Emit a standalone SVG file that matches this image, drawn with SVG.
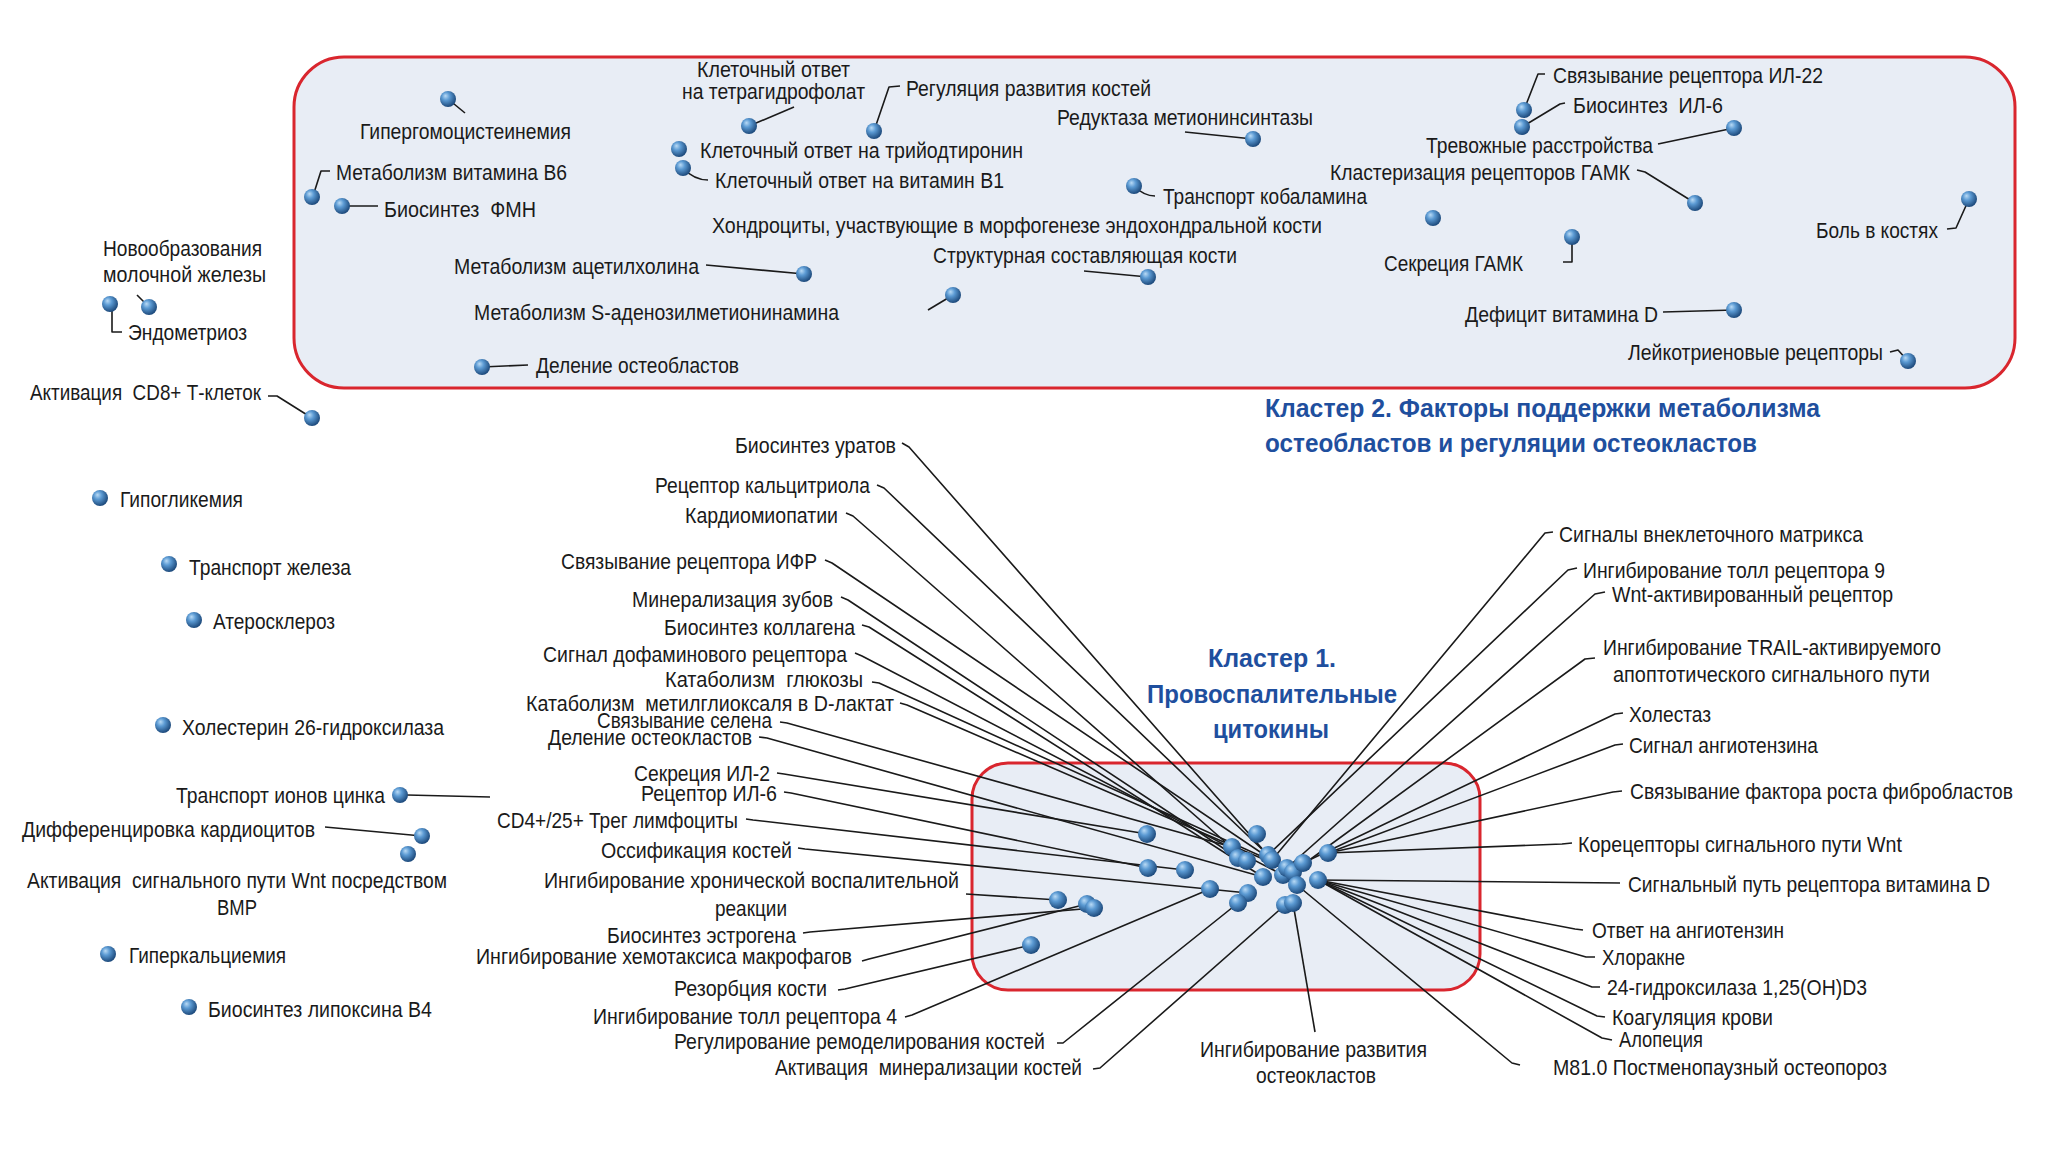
<svg xmlns="http://www.w3.org/2000/svg" xmlns:xlink="http://www.w3.org/1999/xlink" width="2050" height="1152" viewBox="0 0 2050 1152">
<style>
.t{font-family:"Liberation Sans Narrow","Liberation Sans",Arial,sans-serif;font-size:22px;fill:#1a1a1a;white-space:pre}
.h{font-family:"Liberation Sans Narrow","Liberation Sans",Arial,sans-serif;font-size:26px;font-weight:bold;fill:#1f4f9e}
.ln{stroke:#1a1a1a;stroke-width:1.6;fill:none;stroke-linejoin:round}
.box{fill:#e8edf5;stroke:#d9262e;stroke-width:3}
</style>
<defs>
<radialGradient id="gb" cx="0.4" cy="0.38" r="0.62" fx="0.34" fy="0.3">
<stop offset="0" stop-color="#b9daf5"/>
<stop offset="0.4" stop-color="#5b9ad3"/>
<stop offset="1" stop-color="#1d4a7c"/>
</radialGradient>
<circle id="ball" r="8" fill="url(#gb)"/>
<circle id="ballL" r="9" fill="url(#gb)"/>
</defs>
<rect width="2050" height="1152" fill="#ffffff"/>
<g id="cluster2">
<rect class="box" x="294" y="57" width="1721" height="331" rx="50"/>
</g>
<g id="cluster1">
<rect class="box" x="972" y="763" width="508" height="227" rx="36"/>
</g>
<g id="connectors">
<path class="ln" d="M448,99 L465,113"/>
<path class="ln" d="M330,171 L321,171 L313,196"/>
<path class="ln" d="M342,206 L378,206"/>
<path class="ln" d="M149,307 L137,295"/>
<path class="ln" d="M112,310 L112,332 L122,332"/>
<path class="ln" d="M268,396 L277,396 L312,418"/>
<path class="ln" d="M407,795 L490,797"/>
<path class="ln" d="M325,827 L422,836"/>
<path class="ln" d="M749,126 L794,107"/>
<path class="ln" d="M874,131 L889,87 L900,86"/>
<path class="ln" d="M683,168 Q694,180 708,180"/>
<path class="ln" d="M706,265 L804,274"/>
<path class="ln" d="M953,295 L928,310"/>
<path class="ln" d="M1084,271 L1148,277"/>
<path class="ln" d="M482,367 L528,365"/>
<path class="ln" d="M1185,132 L1253,139"/>
<path class="ln" d="M1134,186 Q1144,196 1155,196"/>
<path class="ln" d="M1658,144 L1734,128"/>
<path class="ln" d="M1637,170 L1645,172 L1695,203"/>
<path class="ln" d="M1572,237 L1572,262 L1563,262"/>
<path class="ln" d="M1663,312 L1734,310"/>
<path class="ln" d="M1524,110 L1538,74 L1545,74"/>
<path class="ln" d="M1522,127 L1560,104 L1565,103"/>
<path class="ln" d="M1969,199 L1956,228 L1947,229"/>
<path class="ln" d="M1890,352 L1898,350 L1908,361"/>
<path class="ln" d="M902,443 L909,447 L1272,860"/>
<path class="ln" d="M877,485 L884,488 L1268,855"/>
<path class="ln" d="M846,513 L853,516 L1247,861"/>
<path class="ln" d="M825,560 L832,563 L1272,860"/>
<path class="ln" d="M841,597 L848,600 L1238,858"/>
<path class="ln" d="M862,625 L869,627 L1263,877"/>
<path class="ln" d="M855,653 L862,656 L1283,875"/>
<path class="ln" d="M872,682 L879,683 L1287,868"/>
<path class="ln" d="M900,703 L907,705 L1293,872"/>
<path class="ln" d="M780,722 L787,723 L1232,847"/>
<path class="ln" d="M759,737 L767,738 L1263,877"/>
<path class="ln" d="M777,773 L784,774 L1147,834"/>
<path class="ln" d="M784,792 L791,793 L1148,868"/>
<path class="ln" d="M746,819 L753,820 L1185,870"/>
<path class="ln" d="M798,848 L805,849 L1248,893"/>
<path class="ln" d="M966,894 L1058,900"/>
<path class="ln" d="M803,933 L810,932 L1094,908"/>
<path class="ln" d="M862,961 L869,959 L1087,904"/>
<path class="ln" d="M838,990 L845,989 L1031,945"/>
<path class="ln" d="M905,1017 L912,1015 L1210,889"/>
<path class="ln" d="M1057,1043 L1063,1043 L1238,903"/>
<path class="ln" d="M1093,1069 L1100,1068 L1285,905"/>
<path class="ln" d="M1315,1032 L1293,903"/>
<path class="ln" d="M1520,1065 L1512,1063 L1297,885"/>
<path class="ln" d="M1553,532 L1545,533 L1272,860"/>
<path class="ln" d="M1577,568 L1568,570 L1268,855"/>
<path class="ln" d="M1605,592 L1595,594 L1287,868"/>
<path class="ln" d="M1595,658 L1585,659 L1293,872"/>
<path class="ln" d="M1623,713 L1615,714 L1303,863"/>
<path class="ln" d="M1623,744 L1615,745 L1328,853"/>
<path class="ln" d="M1622,791 L1613,792 L1328,853"/>
<path class="ln" d="M1572,843 L1562,844 L1328,853"/>
<path class="ln" d="M1620,883 L1318,880"/>
<path class="ln" d="M1583,930 L1575,929 L1318,880"/>
<path class="ln" d="M1595,957 L1586,957 L1318,880"/>
<path class="ln" d="M1600,987 L1592,987 L1318,880"/>
<path class="ln" d="M1605,1017 L1597,1016 L1318,880"/>
<path class="ln" d="M1612,1040 L1602,1038 L1318,880"/>
</g>
<g id="balls-outer">
<use xlink:href="#ball" x="448" y="99"/>
<use xlink:href="#ball" x="312" y="197"/>
<use xlink:href="#ball" x="342" y="206"/>
<use xlink:href="#ball" x="110" y="304"/>
<use xlink:href="#ball" x="149" y="307"/>
<use xlink:href="#ball" x="312" y="418"/>
<use xlink:href="#ball" x="100" y="498"/>
<use xlink:href="#ball" x="169" y="564"/>
<use xlink:href="#ball" x="194" y="620"/>
<use xlink:href="#ball" x="163" y="725"/>
<use xlink:href="#ball" x="400" y="795"/>
<use xlink:href="#ball" x="422" y="836"/>
<use xlink:href="#ball" x="408" y="854"/>
<use xlink:href="#ball" x="108" y="954"/>
<use xlink:href="#ball" x="189" y="1007"/>
<use xlink:href="#ball" x="749" y="126"/>
<use xlink:href="#ball" x="874" y="131"/>
<use xlink:href="#ball" x="679" y="149"/>
<use xlink:href="#ball" x="683" y="168"/>
<use xlink:href="#ball" x="804" y="274"/>
<use xlink:href="#ball" x="953" y="295"/>
<use xlink:href="#ball" x="1148" y="277"/>
<use xlink:href="#ball" x="482" y="367"/>
<use xlink:href="#ball" x="1253" y="139"/>
<use xlink:href="#ball" x="1134" y="186"/>
<use xlink:href="#ball" x="1433" y="218"/>
<use xlink:href="#ball" x="1734" y="128"/>
<use xlink:href="#ball" x="1695" y="203"/>
<use xlink:href="#ball" x="1572" y="237"/>
<use xlink:href="#ball" x="1734" y="310"/>
<use xlink:href="#ball" x="1524" y="110"/>
<use xlink:href="#ball" x="1522" y="127"/>
<use xlink:href="#ball" x="1969" y="199"/>
<use xlink:href="#ball" x="1908" y="361"/>
</g>
<g id="balls-cluster1">
<use xlink:href="#ballL" x="1147" y="834"/>
<use xlink:href="#ballL" x="1257" y="834"/>
<use xlink:href="#ballL" x="1232" y="847"/>
<use xlink:href="#ballL" x="1238" y="858"/>
<use xlink:href="#ballL" x="1247" y="861"/>
<use xlink:href="#ballL" x="1268" y="855"/>
<use xlink:href="#ballL" x="1272" y="860"/>
<use xlink:href="#ballL" x="1263" y="877"/>
<use xlink:href="#ballL" x="1283" y="875"/>
<use xlink:href="#ballL" x="1287" y="868"/>
<use xlink:href="#ballL" x="1293" y="872"/>
<use xlink:href="#ballL" x="1303" y="863"/>
<use xlink:href="#ballL" x="1328" y="853"/>
<use xlink:href="#ballL" x="1318" y="880"/>
<use xlink:href="#ballL" x="1297" y="885"/>
<use xlink:href="#ballL" x="1148" y="868"/>
<use xlink:href="#ballL" x="1185" y="870"/>
<use xlink:href="#ballL" x="1210" y="889"/>
<use xlink:href="#ballL" x="1248" y="893"/>
<use xlink:href="#ballL" x="1238" y="903"/>
<use xlink:href="#ballL" x="1285" y="905"/>
<use xlink:href="#ballL" x="1293" y="903"/>
<use xlink:href="#ballL" x="1058" y="900"/>
<use xlink:href="#ballL" x="1087" y="904"/>
<use xlink:href="#ballL" x="1094" y="908"/>
<use xlink:href="#ballL" x="1031" y="945"/>
</g>
<g id="labels-cluster2">
<text class="t" x="360" y="139" textLength="211" lengthAdjust="spacingAndGlyphs">Гипергомоцистеинемия</text>
<text class="t" x="336" y="180" textLength="231" lengthAdjust="spacingAndGlyphs">Метаболизм витамина В6</text>
<text class="t" x="384" y="217" textLength="152" lengthAdjust="spacingAndGlyphs">Биосинтез  ФМН</text>
<text class="t" x="697" y="77" textLength="153" lengthAdjust="spacingAndGlyphs">Клеточный ответ</text>
<text class="t" x="682" y="99" textLength="183" lengthAdjust="spacingAndGlyphs">на тетрагидрофолат</text>
<text class="t" x="906" y="96" textLength="245" lengthAdjust="spacingAndGlyphs">Регуляция развития костей</text>
<text class="t" x="700" y="158" textLength="323" lengthAdjust="spacingAndGlyphs">Клеточный ответ на трийодтиронин</text>
<text class="t" x="715" y="188" textLength="289" lengthAdjust="spacingAndGlyphs">Клеточный ответ на витамин В1</text>
<text class="t" x="712" y="233" textLength="610" lengthAdjust="spacingAndGlyphs">Хондроциты, участвующие в морфогенезе эндохондральной кости</text>
<text class="t" x="454" y="274" textLength="245" lengthAdjust="spacingAndGlyphs">Метаболизм ацетилхолина</text>
<text class="t" x="474" y="320" textLength="365" lengthAdjust="spacingAndGlyphs">Метаболизм S-аденозилметионинамина</text>
<text class="t" x="933" y="263" textLength="304" lengthAdjust="spacingAndGlyphs">Структурная составляющая кости</text>
<text class="t" x="536" y="373" textLength="203" lengthAdjust="spacingAndGlyphs">Деление остеобластов</text>
<text class="t" x="1057" y="125" textLength="256" lengthAdjust="spacingAndGlyphs">Редуктаза метионинсинтазы</text>
<text class="t" x="1163" y="204" textLength="204" lengthAdjust="spacingAndGlyphs">Транспорт кобаламина</text>
<text class="t" x="1426" y="153" textLength="227" lengthAdjust="spacingAndGlyphs">Тревожные расстройства</text>
<text class="t" x="1330" y="180" textLength="300" lengthAdjust="spacingAndGlyphs">Кластеризация рецепторов ГАМК</text>
<text class="t" x="1384" y="271" textLength="139" lengthAdjust="spacingAndGlyphs">Секреция ГАМК</text>
<text class="t" x="1465" y="322" textLength="193" lengthAdjust="spacingAndGlyphs">Дефицит витамина D</text>
<text class="t" x="1553" y="83" textLength="270" lengthAdjust="spacingAndGlyphs">Связывание рецептора ИЛ-22</text>
<text class="t" x="1573" y="113" textLength="150" lengthAdjust="spacingAndGlyphs">Биосинтез  ИЛ-6</text>
<text class="t" x="1816" y="238" textLength="122" lengthAdjust="spacingAndGlyphs">Боль в костях</text>
<text class="t" x="1628" y="360" textLength="255" lengthAdjust="spacingAndGlyphs">Лейкотриеновые рецепторы</text>
</g>
<g id="labels-outer">
<text class="t" x="103" y="256" textLength="159" lengthAdjust="spacingAndGlyphs">Новообразования</text>
<text class="t" x="103" y="282" textLength="163" lengthAdjust="spacingAndGlyphs">молочной железы</text>
<text class="t" x="128" y="340" textLength="119" lengthAdjust="spacingAndGlyphs">Эндометриоз</text>
<text class="t" x="30" y="400" textLength="231" lengthAdjust="spacingAndGlyphs">Активация  CD8+ Т-клеток</text>
<text class="t" x="120" y="507" textLength="123" lengthAdjust="spacingAndGlyphs">Гипогликемия</text>
<text class="t" x="189" y="575" textLength="162" lengthAdjust="spacingAndGlyphs">Транспорт железа</text>
<text class="t" x="213" y="629" textLength="122" lengthAdjust="spacingAndGlyphs">Атеросклероз</text>
<text class="t" x="182" y="735" textLength="262" lengthAdjust="spacingAndGlyphs">Холестерин 26-гидроксилаза</text>
<text class="t" x="176" y="803" textLength="209" lengthAdjust="spacingAndGlyphs">Транспорт ионов цинка</text>
<text class="t" x="22" y="837" textLength="293" lengthAdjust="spacingAndGlyphs">Дифференцировка кардиоцитов</text>
<text class="t" x="27" y="888" textLength="420" lengthAdjust="spacingAndGlyphs">Активация  сигнального пути Wnt посредством</text>
<text class="t" x="217" y="915" textLength="40" lengthAdjust="spacingAndGlyphs">BMP</text>
<text class="t" x="129" y="963" textLength="157" lengthAdjust="spacingAndGlyphs">Гиперкальциемия</text>
<text class="t" x="208" y="1017" textLength="224" lengthAdjust="spacingAndGlyphs">Биосинтез липоксина В4</text>
</g>
<g id="labels-cluster1-left">
<text class="t" x="735" y="453" textLength="161" lengthAdjust="spacingAndGlyphs">Биосинтез уратов</text>
<text class="t" x="655" y="493" textLength="215" lengthAdjust="spacingAndGlyphs">Рецептор кальцитриола</text>
<text class="t" x="685" y="523" textLength="153" lengthAdjust="spacingAndGlyphs">Кардиомиопатии</text>
<text class="t" x="561" y="569" textLength="256" lengthAdjust="spacingAndGlyphs">Связывание рецептора ИФР</text>
<text class="t" x="632" y="607" textLength="201" lengthAdjust="spacingAndGlyphs">Минерализация зубов</text>
<text class="t" x="664" y="635" textLength="191" lengthAdjust="spacingAndGlyphs">Биосинтез коллагена</text>
<text class="t" x="543" y="662" textLength="304" lengthAdjust="spacingAndGlyphs">Сигнал дофаминового рецептора</text>
<text class="t" x="665" y="687" textLength="198" lengthAdjust="spacingAndGlyphs">Катаболизм  глюкозы</text>
<text class="t" x="526" y="711" textLength="368" lengthAdjust="spacingAndGlyphs">Катаболизм  метилглиоксаля в D-лактат</text>
<text class="t" x="597" y="728" textLength="175" lengthAdjust="spacingAndGlyphs">Связывание селена</text>
<text class="t" x="548" y="745" textLength="204" lengthAdjust="spacingAndGlyphs">Деление остеокластов</text>
<text class="t" x="634" y="781" textLength="136" lengthAdjust="spacingAndGlyphs">Секреция ИЛ-2</text>
<text class="t" x="641" y="801" textLength="136" lengthAdjust="spacingAndGlyphs">Рецептор ИЛ-6</text>
<text class="t" x="497" y="828" textLength="241" lengthAdjust="spacingAndGlyphs">CD4+/25+ Трег лимфоциты</text>
<text class="t" x="601" y="858" textLength="191" lengthAdjust="spacingAndGlyphs">Оссификация костей</text>
<text class="t" x="544" y="888" textLength="415" lengthAdjust="spacingAndGlyphs">Ингибирование хронической воспалительной</text>
<text class="t" x="715" y="916" textLength="72" lengthAdjust="spacingAndGlyphs">реакции</text>
<text class="t" x="607" y="943" textLength="189" lengthAdjust="spacingAndGlyphs">Биосинтез эстрогена</text>
<text class="t" x="476" y="964" textLength="376" lengthAdjust="spacingAndGlyphs">Ингибирование хемотаксиса макрофагов</text>
<text class="t" x="674" y="996" textLength="153" lengthAdjust="spacingAndGlyphs">Резорбция кости</text>
<text class="t" x="593" y="1024" textLength="304" lengthAdjust="spacingAndGlyphs">Ингибирование толл рецептора 4</text>
<text class="t" x="674" y="1049" textLength="371" lengthAdjust="spacingAndGlyphs">Регулирование ремоделирования костей</text>
<text class="t" x="775" y="1075" textLength="307" lengthAdjust="spacingAndGlyphs">Активация  минерализации костей</text>
<text class="t" x="1200" y="1057" textLength="227" lengthAdjust="spacingAndGlyphs">Ингибирование развития</text>
<text class="t" x="1256" y="1083" textLength="120" lengthAdjust="spacingAndGlyphs">остеокластов</text>
</g>
<g id="labels-cluster1-right">
<text class="t" x="1559" y="542" textLength="304" lengthAdjust="spacingAndGlyphs">Сигналы внеклеточного матрикса</text>
<text class="t" x="1583" y="578" textLength="302" lengthAdjust="spacingAndGlyphs">Ингибирование толл рецептора 9</text>
<text class="t" x="1612" y="602" textLength="281" lengthAdjust="spacingAndGlyphs">Wnt-активированный рецептор</text>
<text class="t" x="1603" y="655" textLength="338" lengthAdjust="spacingAndGlyphs">Ингибирование TRAIL-активируемого</text>
<text class="t" x="1613" y="682" textLength="317" lengthAdjust="spacingAndGlyphs">апоптотического сигнального пути</text>
<text class="t" x="1629" y="722" textLength="82" lengthAdjust="spacingAndGlyphs">Холестаз</text>
<text class="t" x="1629" y="753" textLength="189" lengthAdjust="spacingAndGlyphs">Сигнал ангиотензина</text>
<text class="t" x="1630" y="799" textLength="383" lengthAdjust="spacingAndGlyphs">Связывание фактора роста фибробластов</text>
<text class="t" x="1578" y="852" textLength="324" lengthAdjust="spacingAndGlyphs">Корецепторы сигнального пути Wnt</text>
<text class="t" x="1628" y="892" textLength="362" lengthAdjust="spacingAndGlyphs">Сигнальный путь рецептора витамина D</text>
<text class="t" x="1592" y="938" textLength="192" lengthAdjust="spacingAndGlyphs">Ответ на ангиотензин</text>
<text class="t" x="1602" y="965" textLength="83" lengthAdjust="spacingAndGlyphs">Хлоракне</text>
<text class="t" x="1607" y="995" textLength="260" lengthAdjust="spacingAndGlyphs">24-гидроксилаза 1,25(OH)D3</text>
<text class="t" x="1612" y="1025" textLength="161" lengthAdjust="spacingAndGlyphs">Коагуляция крови</text>
<text class="t" x="1619" y="1047" textLength="84" lengthAdjust="spacingAndGlyphs">Алопеция</text>
<text class="t" x="1553" y="1075" textLength="334" lengthAdjust="spacingAndGlyphs">M81.0 Постменопаузный остеопороз</text>
</g>
<g id="titles">
<text class="h" x="1265" y="417" textLength="555" lengthAdjust="spacingAndGlyphs">Кластер 2. Факторы поддержки метаболизма</text>
<text class="h" x="1265" y="452" textLength="492" lengthAdjust="spacingAndGlyphs">остеобластов и регуляции остеокластов</text>
<text class="h" x="1208" y="667" textLength="128" lengthAdjust="spacingAndGlyphs" font-size="28">Кластер 1.</text>
<text class="h" x="1147" y="703" textLength="250" lengthAdjust="spacingAndGlyphs" font-size="28">Провоспалительные</text>
<text class="h" x="1213" y="738" textLength="116" lengthAdjust="spacingAndGlyphs" font-size="28">цитокины</text>
</g>
</svg>
